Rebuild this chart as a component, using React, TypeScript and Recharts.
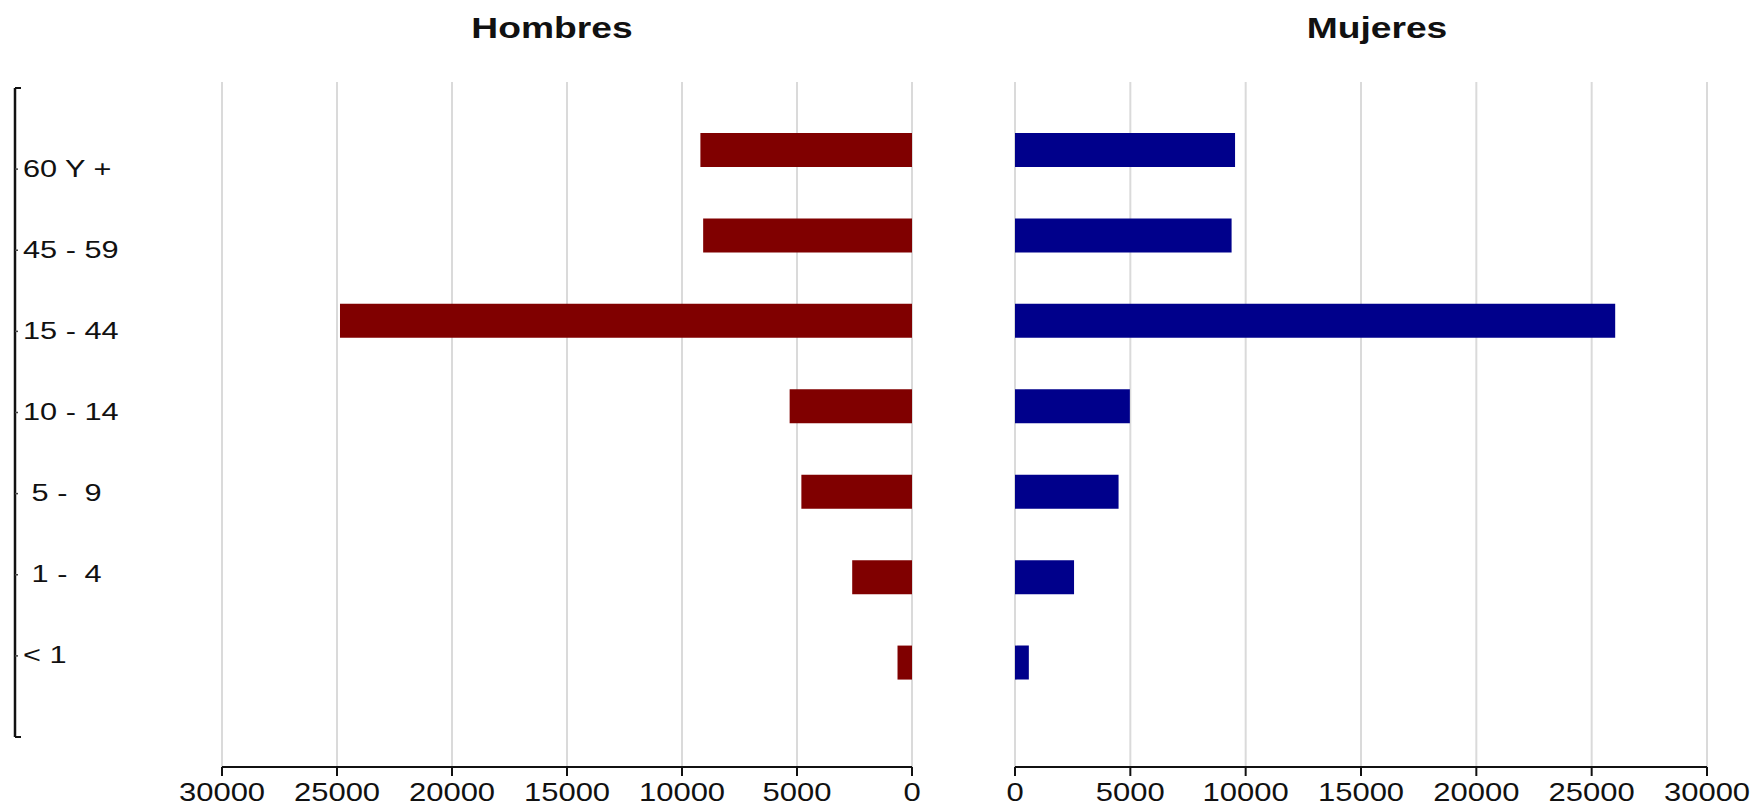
import React from "react";
import { BarChart, Bar, XAxis, YAxis, CartesianGrid } from "recharts";

// ---- data ----
const categories = ["60 Y +", "45 - 59", "15 - 44", "10 - 14", " 5 -  9", " 1 -  4", "< 1"];
const hombres = [9200, 9080, 24870, 5320, 4810, 2600, 630];
const mujeres = [9540, 9390, 26020, 4980, 4490, 2560, 600];
const xTicks = [0, 5000, 10000, 15000, 20000, 25000, 30000];
const labelTicks = [0, 1, 2, 3, 4, 5, 6, 7, 8];
const titles = ["Hombres", "Mujeres"];

const data = categories.map((c, i) => ({ group: c, hombres: hombres[i], mujeres: mujeres[i], pos: categories.length - i }));

const FONT = "'Liberation Sans', Arial, Helvetica, sans-serif";
const SX = 1.24;
const SXL = 1.28;

const XTick = (props: any) => {
  const { x, y, payload } = props;
  return (
    <g transform={`translate(${x},${y})`}>
      <text
        transform={`scale(${SX},1)`}
        textAnchor="middle"
        dy="0.71em"
        fontSize={25}
        fontFamily={FONT}
        fill="#111"
      >
        {payload.value}
      </text>
    </g>
  );
};

const LabelTick = (props: any) => {
  const { x, y, payload } = props;
  const v = payload.value;
  const ax = x - 8;
  if (v === 0 || v === labelTicks.length - 1) {
    return <line x1={ax} x2={ax + 6} y1={y} y2={y} stroke="#111" strokeWidth={2} />;
  }
  const label = categories[categories.length - v];
  return (
    <g>
      <line x1={ax} x2={ax + 3} y1={y} y2={y} stroke="#444" strokeWidth={1.5} />
      <g transform={`translate(${x},${y - 1})`}>
        <text
          transform={`scale(${SXL},1)`}
          textAnchor="start"
          dy="0.355em"
          fontSize={24}
          fontFamily={FONT}
          fill="#111"
          style={{ whiteSpace: "pre" }}
        >
          {label}
        </text>
      </g>
    </g>
  );
};

const axisStyle = { stroke: "#111", strokeWidth: 2 };
const bracketStyle = { stroke: "#111", strokeWidth: 2.5 };

const titleStyle = (cx: number): React.CSSProperties => ({
  position: "absolute",
  left: cx - 150,
  top: 13,
  width: 300,
  textAlign: "center",
  fontFamily: FONT,
  fontWeight: "bold",
  fontSize: 30,
  lineHeight: "30px",
  color: "#111",
  transform: `scaleX(${SX})`,
});

export default function App() {
  return (
    <div style={{ position: "absolute", left: 0, top: 0, width: 1754, height: 806, background: "#fff", overflow: "hidden" }}>
      <div style={titleStyle(552)}>{titles[0]}</div>
      <div style={titleStyle(1377)}>{titles[1]}</div>

      {/* label axis */}
      <div style={{ position: "absolute", left: 0, top: 0 }}>
        <BarChart width={220} height={806} data={data} margin={{ top: 88, bottom: 69, left: 15, right: 0 }}>
          <XAxis dataKey="group" hide />
          <YAxis
            type="number"
            dataKey="pos"
            domain={[0, 8]}
            allowDataOverflow
            ticks={labelTicks}
            interval={0}
            width={1}
            mirror
            tickLine={false}
            tickSize={6}
            tickMargin={2}
            axisLine={bracketStyle}
            tick={<LabelTick />}
          />
          <Bar dataKey="pos" fill="none" isAnimationActive={false} />
        </BarChart>
      </div>

      {/* Hombres */}
      <div style={{ position: "absolute", left: 0, top: 0 }}>
        <BarChart width={960} height={806} data={data} layout="vertical" margin={{ top: 82, bottom: 0, left: 222, right: 48 }}>
          <CartesianGrid horizontal={false} vertical stroke="#dadada" strokeWidth={2} />
          <XAxis
            type="number"
            domain={[0, 30000]}
            ticks={xTicks}
            interval={0}
            reversed
            height={39}
            tickSize={9}
            tickMargin={7}
            axisLine={axisStyle}
            tickLine={axisStyle}
            tick={<XTick />}
          />
          <YAxis type="category" dataKey="group" hide padding={{ top: 25, bottom: 62 }} />
          <Bar dataKey="hombres" fill="#800000" barSize={34} isAnimationActive={false} />
        </BarChart>
      </div>

      {/* Mujeres */}
      <div style={{ position: "absolute", left: 960, top: 0 }}>
        <BarChart width={794} height={806} data={data} layout="vertical" margin={{ top: 82, bottom: 0, left: 55, right: 47 }}>
          <CartesianGrid horizontal={false} vertical stroke="#dadada" strokeWidth={2} />
          <XAxis
            type="number"
            domain={[0, 30000]}
            ticks={xTicks}
            interval={0}
            height={39}
            tickSize={9}
            tickMargin={7}
            axisLine={axisStyle}
            tickLine={axisStyle}
            tick={<XTick />}
          />
          <YAxis type="category" dataKey="group" hide padding={{ top: 25, bottom: 62 }} />
          <Bar dataKey="mujeres" fill="#00008b" barSize={34} isAnimationActive={false} />
        </BarChart>
      </div>
    </div>
  );
}
